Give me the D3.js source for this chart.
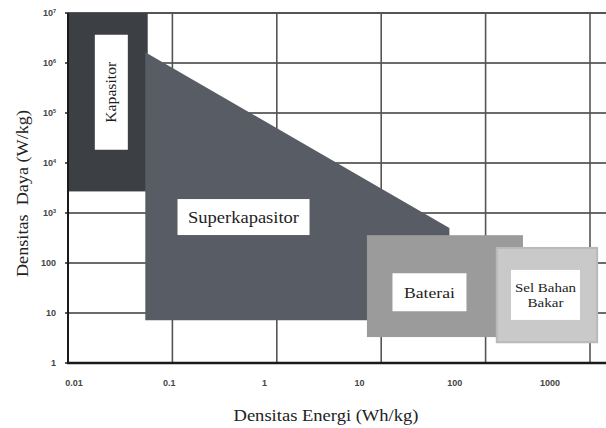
<!DOCTYPE html>
<html>
<head>
<meta charset="utf-8">
<script src="https://cdn.jsdelivr.net/npm/d3@7"></script>
<style>
  html, body { margin: 0; padding: 0; background: #fff; }
  svg { display: block; }
  .serif { font-family: "Liberation Serif", "Times New Roman", serif; }
  .tick { font-family: "Liberation Sans", Arial, sans-serif; }
</style>
</head>
<body>
<svg id="chart" width="606" height="428"></svg>
<script>
// Ragone plot: power density vs. energy density for storage technologies.
const technologies = ["Kapasitor", "Superkapasitor", "Baterai", "Sel Bahan Bakar"];
const fillColors   = ["#3c3f43", "#585d65", "#9b9b9b", "#c9c9c9"];

// Rectangular regions [energyMin, energyMax, powerMin, powerMax] (Wh/kg, W/kg)
const kapasitorBox = [0.01, 0.058, 2700, 1e7];
const bateraiBox   = [7.3, 228, 3.3, 360];
const selBox       = [128, 1170, 2.6, 200];

// Superkapasitor polygon vertices [energy, power]
const superkapasitorEnergy = [0.055, 45, 45, 0.055];
const superkapasitorPower  = [1.65e6, 500, 7.2, 7.2];

// Label anchors (data units)
const labelEnergy = [0.026, 0.48, 29, 375];
const labelPower  = [2.6e5, 830, 26, 23];

// Axis tick values
const xTicks = [0.01, 0.1, 1, 10, 100, 1000];
const xTickLabels = ["0.01", "0.1", "1", "10", "100", "1000"];
const yTicks = [1, 10, 100, 1e3, 1e4, 1e5, 1e6, 1e7];
const yTickLabels = [["1"], ["10"], ["100"], ["10", "3"], ["10", "4"], ["10", "5"], ["10", "6"], ["10", "7"]];

const svg = d3.select("#chart");
const W = 606;
const plotLeft = 68, plotTop = 13, plotBottom = 363;

const x = d3.scaleLog().domain([0.01, 1000]).range([plotLeft, 590]);
const y = d3.scaleLog().domain([1, 1e7]).range([plotBottom, plotTop]);
// tick text sits on its own evenly spaced row beneath the axis
const xLabel = d3.scaleLog().domain([0.01, 1000]).range([74, 550]);

// grid
const grid = svg.append("g");
grid.selectAll("line.h").data(yTicks.slice(1)).join("line")
  .attr("x1", plotLeft).attr("x2", W)
  .attr("y1", d => y(d)).attr("y2", d => y(d))
  .attr("stroke", d => d === 1e7 ? "#555" : "#3a3a3a")
  .attr("stroke-width", d => d === 1e7 ? 2 : 1.4);
grid.selectAll("line.v").data(xTicks.slice(1)).join("line")
  .attr("x1", d => x(d)).attr("x2", d => x(d))
  .attr("y1", plotTop).attr("y2", plotBottom)
  .attr("stroke", "#555").attr("stroke-width", 1.6);

// regions
const rect = (b, i) => svg.append("rect")
  .attr("x", x(b[0])).attr("width", x(b[1]) - x(b[0]))
  .attr("y", y(b[3])).attr("height", y(b[2]) - y(b[3]))
  .attr("fill", fillColors[i]);

rect(kapasitorBox, 0);
svg.append("path")
  .attr("d", d3.line()(superkapasitorEnergy.map((e, i) => [x(e), y(superkapasitorPower[i])])) + "Z")
  .attr("fill", fillColors[1]);
rect(bateraiBox, 2);
rect(selBox, 3).attr("stroke", "#b9b9b9").attr("stroke-width", 2);

// label boxes
const boxSize = [[33, 115], [132, 36], [74, 38], [69, 50]];
const labels = svg.append("g").attr("class", "serif").attr("fill", "#1e1e1e");
technologies.forEach((t, i) => {
  const cx = x(labelEnergy[i]), cy = y(labelPower[i]);
  const [bw, bh] = boxSize[i];
  labels.append("rect").attr("x", cx - bw / 2).attr("y", cy - bh / 2)
    .attr("width", bw).attr("height", bh).attr("fill", "#fff");
  const txt = labels.append("text").attr("text-anchor", "middle")
    .attr("lengthAdjust", "spacingAndGlyphs")
    .attr("transform", `translate(${cx},${cy})` + (i === 0 ? " rotate(-90)" : ""));
  if (i === 0) {
    txt.attr("font-size", 14).attr("dy", "0.35em").attr("textLength", 61).text(t);
  } else if (i === 1) {
    txt.attr("font-size", 16).attr("dy", "0.35em").attr("textLength", 111).text(t);
  } else if (i === 2) {
    txt.attr("font-size", 15.5).attr("dy", "0.35em").attr("textLength", 51).text(t);
  } else {
    txt.attr("font-size", 13.5);
    txt.append("tspan").attr("x", 0).attr("dy", "-0.25em")
      .attr("lengthAdjust", "spacingAndGlyphs").attr("textLength", 61).text("Sel Bahan");
    txt.append("tspan").attr("x", 0).attr("dy", "1.15em")
      .attr("lengthAdjust", "spacingAndGlyphs").attr("textLength", 36).text("Bakar");
  }
});

// axes lines and small ticks on the power axis
svg.append("g").selectAll("line").data(yTicks).join("line")
  .attr("x1", plotLeft - 3).attr("x2", plotLeft)
  .attr("y1", d => y(d)).attr("y2", d => y(d))
  .attr("stroke", "#222").attr("stroke-width", 1.5);
svg.append("line").attr("x1", plotLeft).attr("x2", plotLeft).attr("y1", plotTop).attr("y2", plotBottom + 1)
  .attr("stroke", "#1a1a1a").attr("stroke-width", 2);
svg.append("line").attr("x1", plotLeft - 1).attr("x2", W).attr("y1", plotBottom).attr("y2", plotBottom)
  .attr("stroke", "#1a1a1a").attr("stroke-width", 2.5);

// tick labels
svg.append("g").attr("class", "tick").selectAll("text").data(xTicks).join("text")
  .attr("x", d => xLabel(d)).attr("y", 386)
  .attr("text-anchor", "middle")
  .attr("font-size", 9).attr("font-weight", "bold").attr("fill", "#444")
  .text((d, i) => xTickLabels[i]);

const yt = svg.append("g").attr("class", "tick").selectAll("text").data(yTicks).join("text")
  .attr("x", 56).attr("y", d => y(d) + 3)
  .attr("text-anchor", "end")
  .attr("font-size", 9).attr("font-weight", "bold").attr("fill", "#444");
yt.each(function (d, i) {
  const parts = yTickLabels[i];
  const t = d3.select(this);
  t.append("tspan").text(parts[0]);
  if (parts[1]) t.append("tspan").attr("font-size", 5.5).attr("dy", -3.5).text(parts[1]);
});

// axis titles
svg.append("text").attr("class", "serif").attr("x", 326).attr("y", 421).attr("text-anchor", "middle")
  .attr("font-size", 17).attr("fill", "#222")
  .attr("lengthAdjust", "spacingAndGlyphs").attr("textLength", 185)
  .text("Densitas Energi (Wh/kg)");
svg.append("text").attr("class", "serif").attr("transform", "translate(28,193.5) rotate(-90)")
  .attr("text-anchor", "middle")
  .attr("font-size", 16.5).attr("fill", "#222").style("white-space", "pre")
  .attr("lengthAdjust", "spacingAndGlyphs").attr("textLength", 167)
  .text("Densitas  Daya (W/kg)");
</script>
</body>
</html>
